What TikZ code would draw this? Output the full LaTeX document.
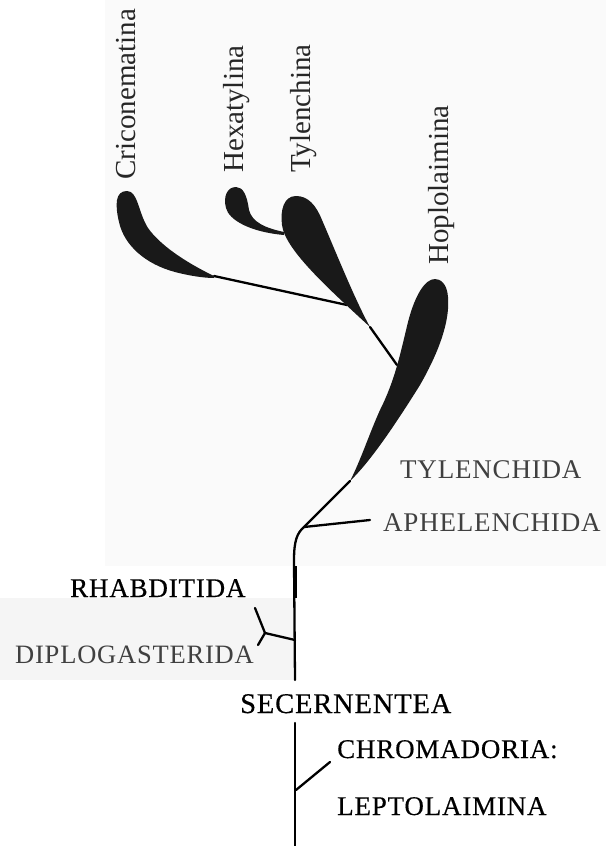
\documentclass[tikz,border=0pt]{standalone}
\usepackage{fontspec}
\setmainfont{Liberation Serif}
\newfontfamily\capsfont[LetterSpace=3]{Liberation Serif}
\newfontfamily\darkcaps[LetterSpace=3, FakeBold=0.4]{Liberation Serif}
\usepackage{tikz}
\tikzset{taxon/.style={font=\fontsize{29}{29}\selectfont, text=black!85, rotate=90, anchor=base west, inner sep=0pt}}
\tikzset{group/.style={font=\capsfont\fontsize{27}{27}\selectfont, anchor=base west, inner sep=0pt}}
\tikzset{darkgroup/.style={group, font=\darkcaps\fontsize{27}{27}\selectfont}}
\tikzset{branch/.style={line width=2.3pt, line cap=round}}
\tikzset{paddle/.style={fill=black!90}}

\begin{document}
\begin{tikzpicture}[x=1pt, y=-1pt]

	\useasboundingbox (0,0) rectangle (606,846);
	\fill[black!2] (105,0) rectangle (606,566);
	\fill[black!4] (0,598) rectangle (293,680);

	% suborders
	\node[taxon] (cric) at (135,180) {Criconematina};
	\node[taxon] (hexa) at (243,173) {Hexatylina};
	\node[taxon] (tyle) at (310,173) {Tylenchina};
	\node[taxon] (hopl) at (448,265) {Hoplolaimina};

	% orders
	\node[group, text=black!75] (tylda) at (400,478) {TYLENCHIDA};
	\node[group, text=black!75] (aphel) at (383,531) {APHELENCHIDA};
	\node[darkgroup] (rhab) at (70,597) {RHABDITIDA};
	\node[group, text=black!75, font=\capsfont\fontsize{26.5}{27}\selectfont] (diplo) at (15,663) {DIPLOGASTERIDA};
	\node[darkgroup, font=\darkcaps\fontsize{28.5}{27}\selectfont] (secer) at (240,713) {SECERNENTEA};
	\node[darkgroup] (chrom) at (337,758) {CHROMADORIA:};
	\node[darkgroup] (lepto) at (337,815) {LEPTOLAIMINA};

	\coordinate (root) at (295,846);
	\coordinate (chromfork) at (296,790);
	\coordinate (chromtip) at (330,762);
	\coordinate (secbot) at (295,723);
	\coordinate (sectop) at (295,680);
	\coordinate (diplofork) at (295,640);
	\coordinate (diplosplit) at (265,633);
	\coordinate (rhabtip) at (255,608);
	\coordinate (diplotip) at (258,645);
	\coordinate (bend) at (304,527);
	\coordinate (apheltip) at (370,520);
	\coordinate (hopltail) at (350,481);
	\coordinate (tyltail) at (370,327);
	\coordinate (tyljoin) at (397,365);
	\coordinate (crictail) at (214,276);
	\coordinate (cricjoin) at (347,305);

	\draw[branch] (root) -- (secbot);
	\draw[branch] (chromfork) -- (chromtip);
	\draw[branch] (sectop) -- (294,560) .. controls (294,541) and (297,533) .. (bend) -- (hopltail);
	\draw[branch] (bend) -- (apheltip);
	\draw[line width=3.5pt] (295,566) -- (295,598);
	\draw[branch] (diplofork) -- (diplosplit) -- (rhabtip);
	\draw[branch] (diplosplit) -- (diplotip);
	\draw[branch] (crictail) -- (cricjoin);
	\draw[branch] (tyltail) -- (tyljoin);

	% Criconematina
	\fill[paddle] (crictail) .. controls (185,262) and (160,245) .. (148,228) .. controls (138,212) and (138,191) .. (127,191) .. controls (115,191) and (115,205) .. (119,222) .. controls (124,245) and (145,264) .. (175,272) .. controls (190,276) and (205,278) .. (214,278) -- cycle;
	% Hexatylina
	\fill[paddle] (284,232) .. controls (265,228) and (252,222) .. (249,210) .. controls (247,195) and (243,187) .. (236,187) .. controls (227,187) and (223,197) .. (226,208) .. controls (229,220) and (250,232) .. (284,235) -- cycle;
	% Tylenchina
	\fill[paddle] (tyltail) .. controls (355,300) and (335,250) .. (322,220) .. controls (316,205) and (308,196) .. (296,196) .. controls (284,196) and (280,210) .. (282,225) .. controls (285,250) and (330,290) .. (tyltail) -- cycle;
	% Hoplolaimina
	\fill[paddle] (hopltail) .. controls (370,462) and (395,425) .. (420,385) .. controls (440,350) and (450,320) .. (448,297) .. controls (447,283) and (440,279) .. (435,279) .. controls (425,279) and (415,295) .. (408,322) .. controls (400,355) and (395,380) .. (380,410) .. controls (370,432) and (360,462) .. (hopltail) -- cycle;

\end{tikzpicture}
\end{document}
